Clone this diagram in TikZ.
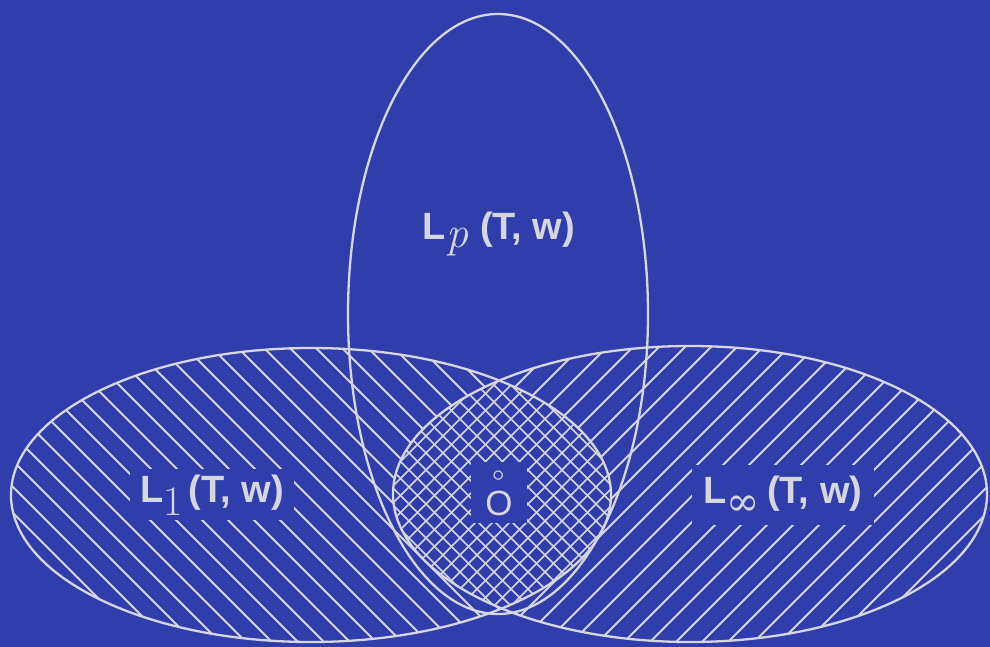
\documentclass[tikz,border=0pt]{standalone}
\usepackage{fontspec}
\newfontfamily\labfont{Liberation Sans}
\newfontfamily\serifsym{DejaVu Serif}
\definecolor{bg}{RGB}{48,62,172}
\definecolor{ink}{RGB}{212,214,224}
\tikzset{
  outline/.style={draw=ink, line width=2.3pt},
  hatch/.style={draw=ink, line width=1.8pt},
  lab/.style={fill=bg, text=ink, font=\labfont\fontsize{38}{40}\selectfont, anchor=base, inner xsep=10pt, inner ysep=6pt},
}
\newcommand\Lab[3]{\textbf{L}\raisebox{-#2}{#1}\hspace{#3}\textbf{(T, w)}}
\newcommand\ringO{\setbox0\hbox{O}\rlap{\hbox to \wd0{\hss\raisebox{20pt}{\rmfamily\fontsize{36}{36}\selectfont °}\hss}}O}
\begin{document}
\begin{tikzpicture}[x=1pt,y=-1pt]
\useasboundingbox (0,0) rectangle (990,647);
\fill[bg] (0,0) rectangle (990,647);
\def\Lpath{(311,495) ellipse [x radius=300pt, y radius=147pt]}
\def\Rpath{(690,494) ellipse [x radius=297pt, y radius=148pt]}
\def\Vpath{(498,314) ellipse [x radius=150pt, y radius=300pt]}
% left hatching
\begin{scope}
  \clip \Lpath;
  \foreach \c in {-280,-254,...,660} \draw[hatch] (-50,{-50+\c}) -- (1050,{1050+\c});
\end{scope}
% right hatching
\begin{scope}
  \clip \Rpath;
  \foreach \c in {720,746,...,1680} \draw[hatch] (-50,{\c+50}) -- (1050,{\c-1050});
\end{scope}
% lens cross-hatching
\begin{scope}
  \clip \Lpath;
  \clip \Rpath;
  \fill[bg] (0,0) rectangle (990,647);
  \foreach \c in {-245,-228,...,240} \draw[hatch, line width=1.6pt] (-50,{-50+\c}) -- (1050,{1050+\c});
  \foreach \c in {760,777,...,1240} \draw[hatch, line width=1.6pt] (-50,{\c+50}) -- (1050,{\c-1050});
\end{scope}
% outlines
\draw[outline] \Lpath;
\draw[outline] \Rpath;
\draw[outline] \Vpath;
% labels
\node[lab, fill=none] (lp) at (499,240) {\Lab{{\rmfamily\itshape\fontsize{44}{44}\selectfont p}}{8pt}{12pt}};
\node[lab, inner ysep=5pt] (l1) at (212,502) {\Lab{{\rmfamily\fontsize{42}{42}\selectfont 1}}{13pt}{6pt}};
\node[lab, inner xsep=12pt, inner ysep=10pt] (linf) at (783,503) {\Lab{{\serifsym\fontsize{40}{40}\selectfont ∞}}{12pt}{7pt}};
\node[lab, font=\labfont\fontsize{35}{36}\selectfont, inner xsep=14pt, inner ysep=8pt] (o) at (499,515) {\ringO};
\end{tikzpicture}
\end{document}
